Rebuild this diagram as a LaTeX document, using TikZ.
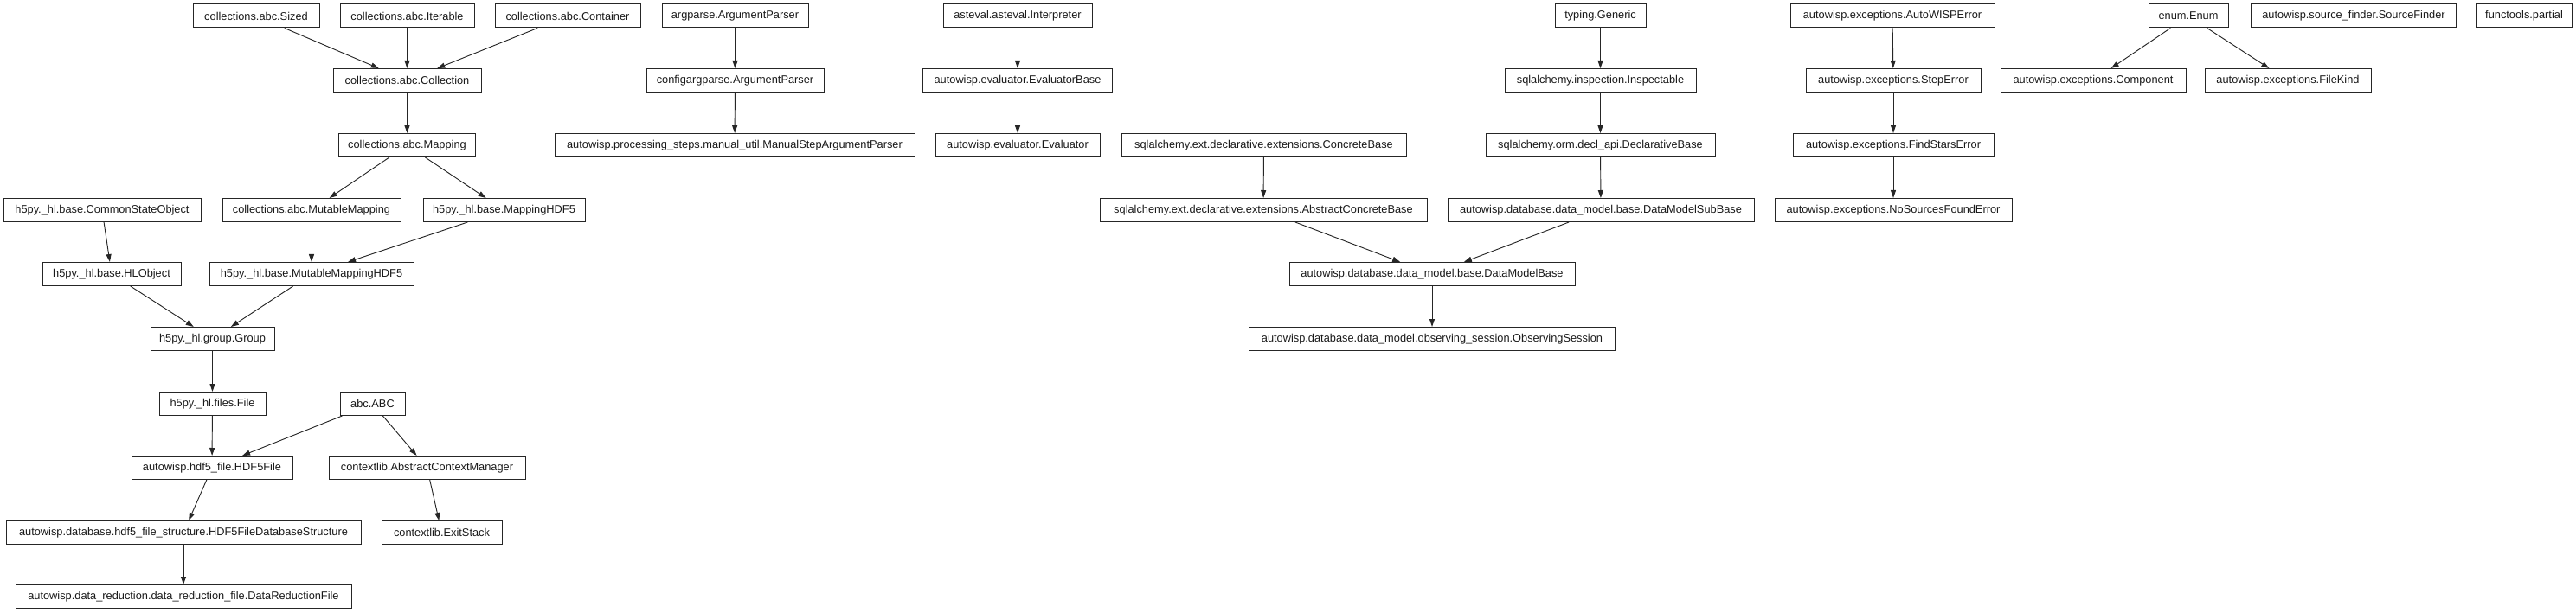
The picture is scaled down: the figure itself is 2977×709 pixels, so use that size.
\documentclass[tikz,border=0pt]{standalone}
\usepackage{fontspec}
\setmainfont{Liberation Sans}
\usetikzlibrary{arrows.meta}
\begin{document}
\begin{tikzpicture}[x=0.75pt,y=-0.75pt,
  cls/.style={draw=black!85, line width=0.75pt, rectangle, inner xsep=0pt, inner ysep=0pt,
    minimum height=20.25pt, anchor=center, text=black!90,
    font=\fontsize{9.6pt}{11pt}\selectfont},
  inh/.style={draw=black!85, line width=0.7pt, -{Triangle[length=6.75pt,width=4.5pt]}}]
\useasboundingbox (0,0) rectangle (2977,709);
% row 1
\node[cls, minimum width=146*0.75pt] (sized) at (296,18.5) {collections.abc.Sized};
\node[cls, minimum width=155*0.75pt] (iterable) at (470.5,18.5) {collections.abc.Iterable};
\node[cls, minimum width=168*0.75pt] (container) at (656,18.5) {collections.abc.Container};
\node[cls, minimum width=169*0.75pt] (argparse) at (849.5,18.5) {argparse.ArgumentParser};
\node[cls, minimum width=172*0.75pt] (interp) at (1176,18.5) {asteval.asteval.Interpreter};
\node[cls, minimum width=105*0.75pt] (generic) at (1849.5,18.5) {typing.Generic};
\node[cls, minimum width=236*0.75pt] (awerr) at (2187,18.5) {autowisp.exceptions.AutoWISPError};
\node[cls, minimum width=92*0.75pt] (enum) at (2529,18.5) {enum.Enum};
\node[cls, minimum width=237*0.75pt] (srcfind) at (2720,18.5) {autowisp.source\_finder.SourceFinder};
\node[cls, minimum width=110*0.75pt] (partial) at (2917,18.5) {functools.partial};
% row 2
\node[cls, minimum width=171*0.75pt] (collection) at (470.5,93) {collections.abc.Collection};
\node[cls, minimum width=205*0.75pt] (cfgparse) at (849.5,93) {configargparse.ArgumentParser};
\node[cls, minimum width=219*0.75pt] (evalbase) at (1176,93) {autowisp.evaluator.EvaluatorBase};
\node[cls, minimum width=221*0.75pt] (inspect) at (1849.5,93) {sqlalchemy.inspection.Inspectable};
\node[cls, minimum width=202*0.75pt] (steperr) at (2188,93) {autowisp.exceptions.StepError};
\node[cls, minimum width=214*0.75pt] (component) at (2419,93) {autowisp.exceptions.Component};
\node[cls, minimum width=192*0.75pt] (filekind) at (2644,93) {autowisp.exceptions.FileKind};
% row 3
\node[cls, minimum width=158*0.75pt] (mapping) at (470.5,168) {collections.abc.Mapping};
\node[cls, minimum width=416*0.75pt] (manual) at (849,168) {autowisp.processing\_steps.manual\_util.ManualStepArgumentParser};
\node[cls, minimum width=190*0.75pt] (evaluator) at (1176,168) {autowisp.evaluator.Evaluator};
\node[cls, minimum width=329*0.75pt] (concrete) at (1460.5,168) {sqlalchemy.ext.declarative.extensions.ConcreteBase};
\node[cls, minimum width=265*0.75pt] (declbase) at (1849.5,168) {sqlalchemy.orm.decl\_api.DeclarativeBase};
\node[cls, minimum width=232*0.75pt] (findstars) at (2188,168) {autowisp.exceptions.FindStarsError};
% row 4
\node[cls, minimum width=228*0.75pt] (common) at (118,243) {h5py.\_hl.base.CommonStateObject};
\node[cls, minimum width=206*0.75pt] (mutmap) at (360,243) {collections.abc.MutableMapping};
\node[cls, minimum width=187*0.75pt] (maphdf) at (582.5,243) {h5py.\_hl.base.MappingHDF5};
\node[cls, minimum width=378*0.75pt] (absconcrete) at (1460,243) {sqlalchemy.ext.declarative.extensions.AbstractConcreteBase};
\node[cls, minimum width=354*0.75pt] (dmsub) at (1850,243) {autowisp.database.data\_model.base.DataModelSubBase};
\node[cls, minimum width=274*0.75pt] (nosrc) at (2188,243) {autowisp.exceptions.NoSourcesFoundError};
% row 5
\node[cls, minimum width=160*0.75pt] (hlobj) at (129,317) {h5py.\_hl.base.HLObject};
\node[cls, minimum width=236*0.75pt] (mutmaphdf) at (360,317) {h5py.\_hl.base.MutableMappingHDF5};
\node[cls, minimum width=330*0.75pt] (dmbase) at (1655,317) {autowisp.database.data\_model.base.DataModelBase};
% row 6
\node[cls, minimum width=143*0.75pt] (group) at (245.5,392) {h5py.\_hl.group.Group};
\node[cls, minimum width=423*0.75pt] (obssess) at (1655,392) {autowisp.database.data\_model.observing\_session.ObservingSession};
% row 7
\node[cls, minimum width=123*0.75pt] (file) at (245.5,467) {h5py.\_hl.files.File};
\node[cls, minimum width=75*0.75pt] (abc) at (430.5,467) {abc.ABC};
% row 8
\node[cls, minimum width=186*0.75pt] (hdf5file) at (245,541) {autowisp.hdf5\_file.HDF5File};
\node[cls, minimum width=227*0.75pt] (acm) at (493.5,541) {contextlib.AbstractContextManager};
% row 9
\node[cls, minimum width=410*0.75pt] (hdf5db) at (212,616) {autowisp.database.hdf5\_file\_structure.HDF5FileDatabaseStructure};
\node[cls, minimum width=139*0.75pt] (exitstack) at (510.5,616) {contextlib.ExitStack};
% row 10
\node[cls, minimum width=388*0.75pt] (drf) at (212,690) {autowisp.data\_reduction.data\_reduction\_file.DataReductionFile};
% edges
\draw[inh] (sized) -- (collection);
\draw[inh] (iterable) -- (collection);
\draw[inh] (container) -- (collection);
\draw[inh] (collection) -- (mapping);
\draw[inh] (mapping) -- (mutmap);
\draw[inh] (mapping) -- (maphdf);
\draw[inh] (common) -- (hlobj);
\draw[inh] (mutmap) -- (mutmaphdf);
\draw[inh] (maphdf) -- (mutmaphdf);
\draw[inh] (hlobj) -- (group);
\draw[inh] (mutmaphdf) -- (group);
\draw[inh] (group) -- (file);
\draw[inh] (file) -- (hdf5file);
\draw[inh] (abc) -- (hdf5file);
\draw[inh] (abc) -- (acm);
\draw[inh] (hdf5file) -- (hdf5db);
\draw[inh] (acm) -- (exitstack);
\draw[inh] (hdf5db) -- (drf);
\draw[inh] (argparse) -- (cfgparse);
\draw[inh] (cfgparse) -- (manual);
\draw[inh] (interp) -- (evalbase);
\draw[inh] (evalbase) -- (evaluator);
\draw[inh] (concrete) -- (absconcrete);
\draw[inh] (absconcrete) -- (dmbase);
\draw[inh] (generic) -- (inspect);
\draw[inh] (inspect) -- (declbase);
\draw[inh] (declbase) -- (dmsub);
\draw[inh] (dmsub) -- (dmbase);
\draw[inh] (dmbase) -- (obssess);
\draw[inh] (awerr) -- (steperr);
\draw[inh] (steperr) -- (findstars);
\draw[inh] (findstars) -- (nosrc);
\draw[inh] (enum) -- (component);
\draw[inh] (enum) -- (filekind);
\end{tikzpicture}
\end{document}
